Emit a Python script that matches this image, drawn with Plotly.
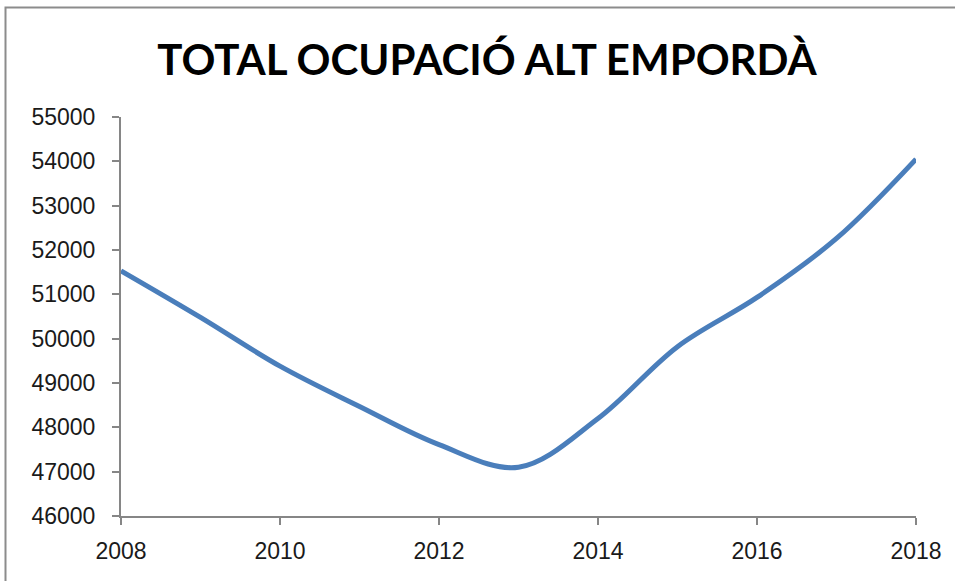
import plotly.graph_objects as go

years = [2008, 2009, 2010, 2011, 2012, 2013, 2014, 2015, 2016, 2017, 2018]
ocupacio = [51530, 50480, 49380, 48470, 47610, 47100, 48200, 49820, 50930, 52260, 54050]
y_ticks = [46000, 47000, 48000, 49000, 50000, 51000, 52000, 53000, 54000, 55000]
x_ticks = [2008, 2010, 2012, 2014, 2016, 2018]

W, H = 955, 581
L, R, T, B = 121, 39, 117, 65
pw, ph = W - L - R, H - T - B

fig = go.Figure()
fig.add_trace(go.Scatter(
    x=years, y=ocupacio, mode="lines",
    line=dict(color="#4a7ebb", width=5, shape="spline", smoothing=1.0),
    hoverinfo="x+y", showlegend=False,
))

def axis_common(standoff):
    return dict(
        showgrid=False, zeroline=False, showline=True, linecolor="#868686", linewidth=2,
        ticks="outside", ticklen=7, tickwidth=2, tickcolor="#868686",
        tickfont=dict(family="Liberation Sans, Arial, sans-serif", size=23, color="#1a1a1a"),
        ticklabelstandoff=standoff,
    )

fig.update_layout(
    width=W, height=H,
    margin=dict(l=L, r=R, t=T, b=B),
    paper_bgcolor="white", plot_bgcolor="white",
    title=dict(
        text="<b>TOTAL OCUPACIÓ ALT EMPORDÀ</b>",
        x=487 / W, xanchor="center", y=1 - 60 / H, yanchor="middle",
        font=dict(family="Lato, sans-serif", size=42, color="#000000"),
    ),
    xaxis=dict(range=[2008, 2018], tickvals=x_ticks, ticktext=[str(v) for v in x_ticks], **axis_common(6)),
    yaxis=dict(range=[46000, 55000], tickvals=y_ticks, ticktext=[str(v) for v in y_ticks], **axis_common(12)),
    shapes=[
        dict(type="rect", xref="paper", yref="paper",
             x0=(5.5 - L) / pw, x1=(W + 20 - L) / pw,
             y0=-(B + 20) / ph, y1=(H - 7.5 - B) / ph,
             line=dict(color="#8c8c8c", width=2), fillcolor="rgba(0,0,0,0)", layer="below"),
    ],
)

fig.write_html(
    "out.html",
    config={"displayModeBar": False},
    post_script="document.body.style.margin='0';document.body.style.padding='0';document.body.style.overflow='hidden';",
)
